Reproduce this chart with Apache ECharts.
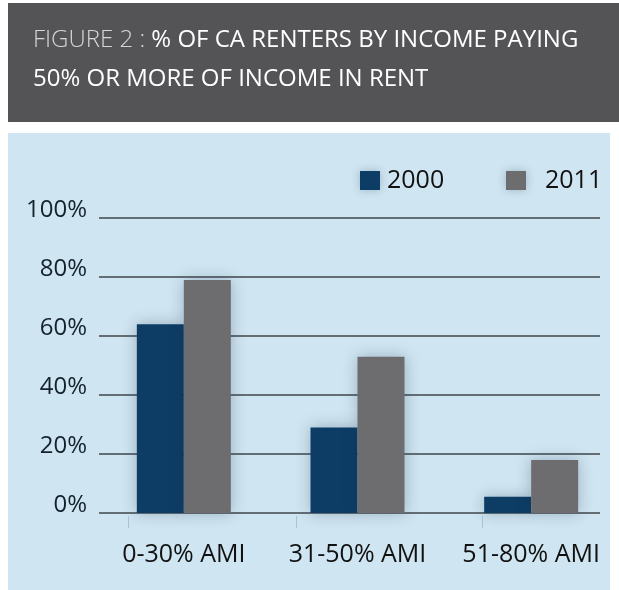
<!DOCTYPE html>
<html>
<head>
<meta charset="utf-8">
<script src="https://cdn.jsdelivr.net/npm/echarts@6/dist/echarts.min.js"></script>
<style>
html,body{margin:0;padding:0;background:#ffffff;}
#chart{width:619px;height:590px;}
</style>
</head>
<body>
<div id="chart"></div>
<script>
const categories = ['0-30% AMI', '31-50% AMI', '51-80% AMI'];
const seriesNames = ['2000', '2011'];
const values2000 = [64, 29, 5.5];
const values2011 = [79, 53, 18];
const yTicks = [0, 20, 40, 60, 80, 100];

const chart = echarts.init(document.getElementById('chart'), null, {renderer: 'canvas'});
const FONT = '"Open Sans", "Noto Sans", sans-serif';

const option = {
  backgroundColor: '#ffffff',
  animation: false,
  graphic: [
    {type: 'rect', z: -10, shape: {x: 8, y: 3, width: 611, height: 119}, style: {fill: '#545456'}},
    {type: 'rect', z: -10, shape: {x: 8, y: 133, width: 602, height: 457}, style: {fill: '#cfe5f1'}},
    {type: 'line', z: 5, shape: {x1: 128.5, y1: 516, x2: 128.5, y2: 528}, style: {stroke: '#a8c3d5', lineWidth: 1}},
    {type: 'line', z: 5, shape: {x1: 296.5, y1: 516, x2: 296.5, y2: 528}, style: {stroke: '#a8c3d5', lineWidth: 1}},
    {type: 'line', z: 5, shape: {x1: 482.5, y1: 516, x2: 482.5, y2: 528}, style: {stroke: '#a8c3d5', lineWidth: 1}}
  ],
  title: {
    left: 28,
    top: 16,
    text: '{a|FIGURE 2 : }{b|% OF CA RENTERS BY INCOME PAYING}\n{b|50% OR MORE OF INCOME IN RENT}',
    textStyle: {
      rich: {
        a: {fontFamily: FONT, fontWeight: 300, fontSize: 24, color: '#d6d6d6', lineHeight: 39},
        b: {fontFamily: FONT, fontWeight: 'normal', fontSize: 24, color: '#ffffff', lineHeight: 39}
      }
    }
  },
  legend: [
    {
      data: [seriesNames[0]],
      left: 355, top: 163,
      itemWidth: 20, itemHeight: 19,
      icon: 'rect',
      textStyle: {fontFamily: FONT, fontSize: 25, color: '#111', padding: [0, 0, 0, 2]},
      itemStyle: {shadowBlur: 8, shadowColor: 'rgba(40,70,100,0.3)'}
    },
    {
      data: [seriesNames[1]],
      left: 501, top: 163,
      itemWidth: 20, itemHeight: 19,
      icon: 'rect',
      textStyle: {fontFamily: FONT, fontSize: 25, color: '#111', padding: [0, 0, 0, 14]},
      itemStyle: {shadowBlur: 8, shadowColor: 'rgba(40,70,100,0.3)'}
    }
  ],
  grid: [
    {left: 99, right: 19, top: 218, bottom: 77},
    {left: 97, right: 1, top: 218, bottom: 77}
  ],
  xAxis: [
    {gridIndex: 0, type: 'value', min: 0, max: 1, show: false},
    {
      gridIndex: 1, type: 'category', data: categories,
      axisLine: {show: false}, axisTick: {show: false},
      axisLabel: {fontFamily: FONT, fontSize: 25, color: '#111', margin: 29, interval: 0, hideOverlap: false}
    }
  ],
  yAxis: [
    {
      gridIndex: 0, type: 'value', min: yTicks[0], max: yTicks[yTicks.length - 1], interval: 20,
      axisLine: {show: false}, axisTick: {show: false},
      axisLabel: {fontFamily: FONT, fontSize: 24, color: '#13222c', margin: 12,
        verticalAlign: 'bottom', lineHeight: 16, formatter: '{value}%'},
      splitLine: {lineStyle: {color: '#3f464b', width: 1.5}}
    },
    {gridIndex: 1, type: 'value', min: 0, max: 100, show: false}
  ],
  series: [
    {
      name: seriesNames[0], type: 'bar', xAxisIndex: 1, yAxisIndex: 1,
      data: values2000, barWidth: 47, barGap: '0%',
      itemStyle: {color: '#0d3c64', shadowBlur: 14, shadowColor: 'rgba(30,50,80,0.3)'}
    },
    {
      name: seriesNames[1], type: 'bar', xAxisIndex: 1, yAxisIndex: 1,
      data: values2011, barWidth: 47, barGap: '0%',
      itemStyle: {color: '#6d6d6f', shadowBlur: 14, shadowColor: 'rgba(30,50,80,0.3)'}
    }
  ]
};
chart.setOption(option);
</script>
</body>
</html>
